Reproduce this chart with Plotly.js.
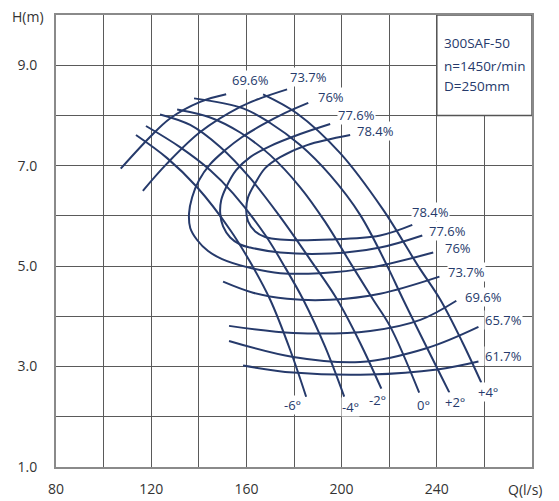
<!DOCTYPE html>
<html>
<head>
<meta charset="utf-8">
<script src="https://cdn.plot.ly/plotly-3.0.1.min.js"></script>
<style>html,body{margin:0;padding:0;background:#fff;}#chart{width:559px;height:501px;}</style>
</head>
<body>
<div id="chart"></div>
<script>
// ---- Blade-angle H-Q curves ----
const bladeLabels = ["-6°", "-4°", "-2°", "0°", "+2°", "+4°"];
const bM6_Q = [113.6, 126.7, 139.3, 153.2, 161.6, 170.0, 178.4, 185.1];
const bM6_H = [7.61, 7.15, 6.57, 5.72, 5.08, 4.33, 3.33, 2.40];
const bM4_Q = [117.8, 132.1, 144.8, 154.4, 167.9, 176.3, 183.9, 193.1, 201.1];
const bM4_H = [7.79, 7.37, 6.91, 6.45, 5.62, 4.97, 4.33, 3.39, 2.40];
const bM2_Q = [123.7, 136.4, 149.0, 161.6, 174.2, 186.8, 198.2, 207.8, 216.7];
const bM2_H = [8.02, 7.81, 7.37, 6.75, 5.98, 5.13, 4.33, 3.47, 2.56];
const b0_Q = [130.9, 144.8, 157.4, 170.0, 182.6, 193.1, 204.5, 213.3, 220.5, 232.6];
const b0_H = [8.12, 7.96, 7.66, 7.21, 6.57, 5.88, 5.00, 4.33, 3.79, 2.48];
const bP2_Q = [138.0, 158.6, 170.0, 182.6, 195.2, 207.8, 219.2, 225.9, 245.3];
const bP2_H = [8.34, 8.14, 7.85, 7.41, 6.81, 6.02, 5.00, 4.33, 2.48];
const bP4_Q = [167.0, 181.3, 199.4, 217.5, 232.2, 241.5, 250.7, 258.7];
const bP4_H = [8.42, 8.04, 7.25, 6.12, 5.00, 4.33, 3.49, 2.68];
// label anchor points (Q, H) for blade angles
const bladeLabelQ = [179.2, 203.6, 215.0, 234.3, 247.8, 261.7];
const bladeLabelH = [2.24, 2.20, 2.34, 2.24, 2.30, 2.50];

// ---- Iso-efficiency curves ----
// upper (open) arcs
const e696u_Q = [107.2, 119.5, 127.9, 140.6, 151.5];
const e696u_H = [6.94, 7.57, 7.94, 8.27, 8.42];
const e737u_Q = [116.5, 126.6, 140.6, 157.4, 165.8, 177.1];
const e737u_H = [6.50, 7.04, 7.67, 8.17, 8.34, 8.52];
// closed-nose loops
const e760_Q = [186.0, 176.3, 166.6, 158.2, 151.1, 144.8, 140.1, 137.2, 135.9, 136.4, 139.3, 143.9, 149.8, 160.3, 174.2, 191.0, 212.0, 238.5];
const e760_H = [8.25, 8.05, 7.81, 7.57, 7.31, 7.03, 6.71, 6.37, 6.05, 5.76, 5.52, 5.30, 5.14, 4.98, 4.86, 4.86, 4.97, 5.27];
const e776_Q = [195.2, 182.6, 170.0, 161.6, 155.7, 151.5, 149.4, 149.0, 150.2, 153.2, 157.4, 161.6, 174.2, 195.2, 216.2, 233.9];
const e776_H = [7.83, 7.63, 7.39, 7.17, 6.91, 6.57, 6.31, 6.05, 5.79, 5.57, 5.43, 5.37, 5.27, 5.25, 5.37, 5.61];
const e784_Q = [203.6, 185.5, 174.2, 167.9, 163.7, 160.7, 159.9, 160.7, 163.7, 167.9, 174.2, 195.2, 216.2, 229.7];
const e784_H = [7.61, 7.41, 7.17, 6.95, 6.65, 6.37, 6.12, 5.89, 5.69, 5.58, 5.53, 5.53, 5.61, 5.82];
// lower branches
const e737l_Q = [150.2, 162.8, 177.1, 195.2, 216.2, 241.1];
const e737l_H = [4.69, 4.47, 4.35, 4.33, 4.45, 4.79];
const e696l_Q = [152.7, 179.7, 212.0, 233.1, 248.2];
const e696l_H = [3.81, 3.67, 3.71, 3.93, 4.31];
const e657_Q = [152.7, 179.7, 207.8, 236.0, 257.5];
const e657_H = [3.51, 3.19, 3.09, 3.37, 3.79];
const e617_Q = [158.6, 179.7, 212.0, 240.2, 257.5];
const e617_H = [3.02, 2.88, 2.84, 2.94, 3.10];
// efficiency label anchors
const effUpLabelQ = [161.6, 186.0, 195.6, 206.2, 214.1];
const effUpLabelH = [8.70, 8.76, 8.36, 8.00, 7.69];
const effUpLabelText = ["69.6%", "73.7%", "76%", "77.6%", "78.4%"];
const effLoLabelQ = [237.3, 244.4, 249.0, 252.4, 259.6, 268.0, 268.0];
const effLoLabelH = [6.07, 5.70, 5.36, 4.88, 4.39, 3.93, 3.21];
const effLoLabelText = ["78.4%", "77.6%", "76%", "73.7%", "69.6%", "65.7%", "61.7%"];

// ---- Axis ticks ----
const xTickVals = [80, 100, 120, 140, 160, 180, 200, 220, 240, 260, 280];
const xTickText = ["80", "", "120", "", "160", "", "200", "", "240", "", ""];
const yTickVals = [1, 2, 3, 4, 5, 6, 7, 8, 9, 10];
const yTickText = ["1.0", "", "3.0", "", "5.0", "", "7.0", "", "9.0", ""];
const infoLines = ["300SAF-50", "n=1450r/min", "D=250mm"];
const infoH = [9.45, 8.98, 8.58];

const NAVY = "#263a6b";
const FONT = "Open Sans, Noto Sans, sans-serif";

function line(q, h) {
  return {x: q, y: h, type: "scatter", mode: "lines",
    line: {color: NAVY, width: 2, shape: "spline", smoothing: 1.0},
    hoverinfo: "skip", showlegend: false};
}
const traces = [
  line(bM6_Q, bM6_H), line(bM4_Q, bM4_H), line(bM2_Q, bM2_H),
  line(b0_Q, b0_H), line(bP2_Q, bP2_H), line(bP4_Q, bP4_H),
  line(e696u_Q, e696u_H), line(e737u_Q, e737u_H),
  line(e760_Q, e760_H), line(e776_Q, e776_H), line(e784_Q, e784_H),
  line(e737l_Q, e737l_H), line(e696l_Q, e696l_H),
  line(e657_Q, e657_H), line(e617_Q, e617_H)
];

const annotations = [];
function lab(x, y, t) {
  annotations.push({x: x, y: y, xref: "x", yref: "y", text: t, showarrow: false,
    font: {family: FONT, size: 13, color: NAVY}, bgcolor: "#ffffff", borderpad: 0,
    xanchor: "center", yanchor: "middle"});
}
for (let i = 0; i < bladeLabels.length; i++) lab(bladeLabelQ[i], bladeLabelH[i], bladeLabels[i]);
for (let i = 0; i < effUpLabelText.length; i++) lab(effUpLabelQ[i], effUpLabelH[i], effUpLabelText[i]);
for (let i = 0; i < effLoLabelText.length; i++) lab(effLoLabelQ[i], effLoLabelH[i], effLoLabelText[i]);
for (let i = 0; i < infoLines.length; i++) {
  annotations.push({x: 242.3, y: infoH[i], xref: "x", yref: "y", text: infoLines[i],
    showarrow: false, xanchor: "left", yanchor: "middle",
    font: {family: FONT, size: 13.5, color: NAVY}});
}
annotations.push({x: -0.059, y: 0.997, xref: "paper", yref: "paper", text: "H(m)",
  showarrow: false, xanchor: "center", yanchor: "middle", font: {family: FONT, size: 14, color: "#333"}});
annotations.push({x: 0.986, y: -0.050, xref: "paper", yref: "paper", text: "Q(l/s)",
  showarrow: false, xanchor: "center", yanchor: "middle", font: {family: FONT, size: 14, color: "#333"}});

const layout = {
  width: 559, height: 501,
  margin: {l: 56, r: 27, t: 15, b: 34},
  paper_bgcolor: "#fff", plot_bgcolor: "#fff",
  showlegend: false,
  xaxis: {range: [80, 280], tickvals: xTickVals, ticktext: xTickText, showgrid: true,
    gridcolor: "#5a5a5a", gridwidth: 1, zeroline: false, showline: true, mirror: true,
    linecolor: "#8a8a8a", linewidth: 2, ticks: "", ticklabelstandoff: 8,
    tickfont: {family: FONT, size: 14, color: "#333"}, fixedrange: true},
  yaxis: {range: [1, 10], tickvals: yTickVals, ticktext: yTickText, showgrid: true,
    gridcolor: "#5a5a5a", gridwidth: 1, zeroline: false, showline: true, mirror: true,
    linecolor: "#8a8a8a", linewidth: 2, ticks: "", ticklabelstandoff: 14,
    tickfont: {family: FONT, size: 14, color: "#333"}, fixedrange: true},
  shapes: [{type: "rect", xref: "x", yref: "y", x0: 240, x1: 280, y0: 8, y1: 10,
    fillcolor: "#ffffff", line: {color: "#555", width: 1.5}, layer: "between"}],
  annotations: annotations
};

Plotly.newPlot("chart", traces, layout, {displayModeBar: false, staticPlot: true});
</script>
</body>
</html>
